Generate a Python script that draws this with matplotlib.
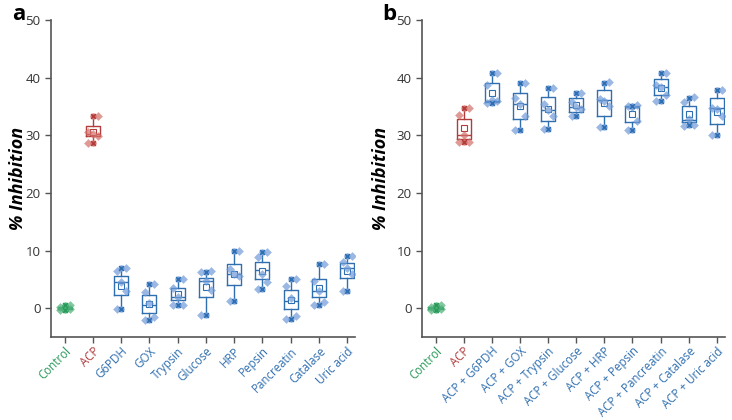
import matplotlib
matplotlib.use("Agg")
import matplotlib.pyplot as plt
import numpy as np

plt.rcParams['font.family'] = ['Open Sans', 'DejaVu Sans']

# panel a
labels_a = ['Control', 'ACP', 'G6PDH', 'GOX', 'Trypsin', 'Glucose', 'HRP',
            'Pepsin', 'Pancreatin', 'Catalase', 'Uric acid']
points_a = [
    [0.5, 0.2, 0.0, -0.2, -0.4],
    [33.4, 30.6, 30.2, 29.9, 28.7],
    [7.0, 6.4, 4.5, 3.0, -0.2],
    [4.2, 2.8, 0.9, -1.6, -2.1],
    [5.1, 3.5, 2.0, 0.6, 0.5],
    [6.4, 6.2, 4.7, 3.1, -1.1],
    [9.9, 6.8, 6.0, 5.6, 1.2],
    [9.7, 8.8, 6.0, 4.6, 3.4],
    [5.1, 3.8, 1.7, -1.3, -1.8],
    [7.6, 4.7, 3.0, 1.1, 0.6],
    [9.1, 8.0, 6.9, 6.0, 3.0],
]
q1_a = [-0.2, 29.8, 2.3, -0.8, 1.4, 1.9, 4.1, 5.0, -0.2, 1.9, 5.2]
med_a = [0.0, 30.3, 4.6, 0.5, 2.0, 4.7, 6.0, 6.7, 1.3, 3.0, 7.0]
q3_a = [0.2, 31.6, 5.6, 2.3, 3.5, 5.3, 7.6, 8.1, 3.1, 5.1, 7.8]
mean_a = [0.0, 30.6, 3.9, 0.8, 2.4, 3.6, 5.9, 6.5, 1.5, 3.5, 6.5]
lo_a = [-0.4, 28.7, -0.2, -2.1, 0.5, -1.1, 1.2, 3.3, -1.8, 0.6, 3.0]
hi_a = [0.5, 33.4, 6.9, 4.2, 5.1, 6.3, 9.9, 9.7, 5.1, 7.6, 9.0]

# panel b
labels_b = ['Control', 'ACP', 'ACP + G6PDH', 'ACP + GOX', 'ACP + Trypsin',
            'ACP + Glucose', 'ACP + HRP', 'ACP + Pepsin', 'ACP + Pancreatin',
            'ACP + Catalase', 'ACP + Uric acid']
points_b = [
    [0.5, 0.2, 0.0, -0.2, -0.4],
    [34.7, 33.6, 30.0, 28.9, 28.8],
    [40.8, 38.8, 36.1, 35.9, 35.6],
    [39.1, 36.5, 35.5, 33.4, 31.0],
    [38.2, 35.5, 34.4, 33.3, 31.1],
    [37.4, 35.8, 34.9, 34.6, 33.3],
    [39.2, 36.3, 36.0, 35.0, 31.5],
    [35.2, 35.0, 34.9, 32.5, 30.9],
    [40.8, 38.8, 38.4, 37.0, 36.0],
    [36.6, 35.7, 32.8, 31.8, 31.6],
    [37.8, 34.8, 34.5, 33.3, 30.1],
]
q1_b = [-0.2, 29.3, 35.8, 32.9, 32.5, 34.0, 33.4, 32.3, 37.0, 32.3, 32.0]
med_b = [0.0, 30.0, 35.9, 35.4, 34.4, 34.9, 36.1, 34.9, 38.4, 32.7, 34.7]
q3_b = [0.2, 32.9, 39.1, 37.4, 36.6, 36.4, 37.9, 35.0, 39.8, 35.1, 36.4]
mean_b = [0.0, 31.2, 37.4, 35.1, 34.5, 35.2, 35.6, 33.7, 38.2, 33.7, 34.1]
lo_b = [-0.4, 28.8, 35.6, 31.0, 31.1, 33.3, 31.5, 31.0, 36.0, 31.7, 30.1]
hi_b = [0.5, 34.7, 40.8, 39.1, 38.2, 37.4, 39.1, 35.1, 40.8, 36.5, 37.8]

GREEN = '#2a9a5a'
RED = '#b23c3c'
BLUE = '#2f6fb0'
LIGHT = {GREEN: '#4fb07a', RED: '#d4706a', BLUE: '#6f9bd8'}
group_colors = [GREEN, RED] + [BLUE] * 9
jitter = [0.18, -0.16, 0.0, 0.18, -0.16]


def draw_panel(ax, labels, points, q1, med, q3, mean, lo, hi):
    x = np.arange(len(labels))
    for i, c in enumerate(group_colors):
        st = [dict(med=med[i], q1=q1[i], q3=q3[i], whislo=lo[i], whishi=hi[i],
                   mean=mean[i], fliers=[])]
        ax.bxp(st, positions=[x[i]], widths=0.5, showcaps=False, showmeans=True,
               patch_artist=False,
               boxprops=dict(color=c, linewidth=1.0),
               whiskerprops=dict(color=c, linewidth=1.0),
               medianprops=dict(color=c, linewidth=1.0),
               meanprops=dict(marker='s', markersize=4, markerfacecolor='white',
                              markeredgecolor=c, markeredgewidth=0.8))
        ax.scatter(x[i] + np.array(jitter), points[i], marker='D', s=20,
                   color=LIGHT[c], alpha=0.7, linewidths=0, zorder=3)
        ax.scatter([x[i], x[i]], [lo[i], hi[i]], marker='o', s=20,
                   color=LIGHT[c], zorder=4, linewidths=0)
        ax.scatter([x[i], x[i]], [lo[i], hi[i]], marker='x', s=12,
                   color=c, zorder=5, linewidths=1.0)

    ax.set_xlim(-0.48, len(labels) - 0.72)
    ax.set_ylim(-5, 50)
    ax.set_yticks([0, 10, 20, 30, 40, 50])
    ax.set_xticks(x)
    ax.set_xticklabels(labels, rotation=45, ha='right', rotation_mode='anchor',
                       fontsize=8.3)
    for lab, c in zip(ax.get_xticklabels(), group_colors):
        lab.set_color(c)
    for s in ['top', 'right']:
        ax.spines[s].set_visible(False)
    for s in ['left', 'bottom']:
        ax.spines[s].set_color('#555555')
        ax.spines[s].set_linewidth(1.2)
    ax.tick_params(axis='both', direction='out', length=4, width=1.0,
                   color='#555555')
    ax.tick_params(axis='x', pad=1.5)
    ax.tick_params(axis='y', labelsize=9.5, labelcolor='#333333')
    ax.set_ylabel('% Inhibition', fontsize=13, fontweight='bold',
                  fontstyle='italic')


fig = plt.figure(figsize=(7.32, 4.2), dpi=100)
ax_a = fig.add_axes([0.0697, 0.1976, 0.4153, 0.7548])
ax_b = fig.add_axes([0.5765, 0.1976, 0.4135, 0.7548])

draw_panel(ax_a, labels_a, points_a, q1_a, med_a, q3_a, mean_a, lo_a, hi_a)
draw_panel(ax_b, labels_b, points_b, q1_b, med_b, q3_b, mean_b, lo_b, hi_b)
ax_a.yaxis.set_label_coords(-0.08, 0.5)
ax_b.yaxis.set_label_coords(-0.106, 0.5)

fig.text(0.016, 0.952, 'a', fontsize=16, fontweight='bold', va='baseline')
fig.text(0.522, 0.952, 'b', fontsize=16, fontweight='bold', va='baseline')

fig.savefig('out.png', dpi=100)
